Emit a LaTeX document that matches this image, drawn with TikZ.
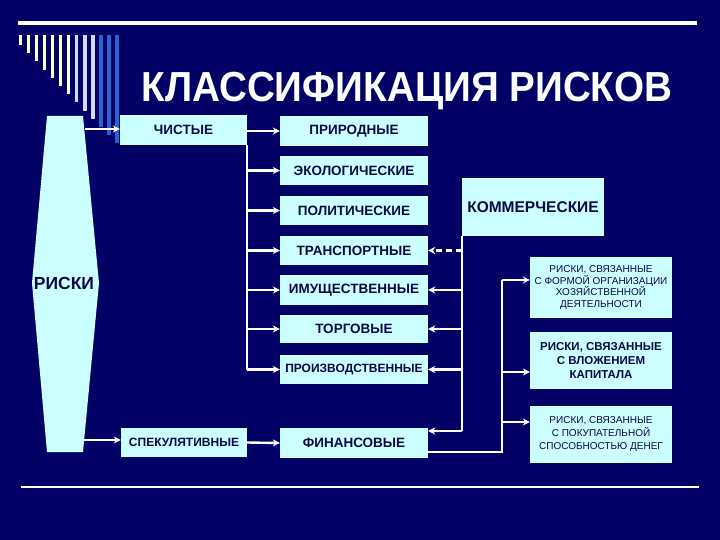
\documentclass[tikz,border=0pt]{standalone}
\usepackage{fontspec}
\setmainfont{Liberation Sans}
\usetikzlibrary{arrows.meta}
\definecolor{bg}{RGB}{2,2,102}
\definecolor{boxc}{RGB}{204,255,255}
\definecolor{txt}{RGB}{8,8,70}
\definecolor{stY}{RGB}{255,255,204}
\definecolor{stL}{RGB}{204,221,255}
\definecolor{stB}{RGB}{40,100,210}
\tikzset{
  box/.style={fill=boxc, draw=none, inner sep=1pt, text=txt, align=center},
  mid/.style={box, minimum width=148pt},
  rbox/.style={box, minimum width=142pt},
  wl/.style={draw=white, line width=2.4pt},
  arr/.style={wl, -{Stealth[length=7pt,width=7pt]}},
  dsh/.style={dash pattern=on 6pt off 4pt},
  fs/.style={font=\fontsize{#1}{#1}\selectfont\bfseries},
}
\begin{document}
\begin{tikzpicture}[x=1pt,y=-1pt]
\fill[bg] (0,0) rectangle (720,540);
\useasboundingbox (0,0) rectangle (720,540);
% top and bottom rules
\fill[white] (18,21.5) rectangle (697,25.5);
\draw[white, line width=1.5pt] (21,487) -- (699,487);
% stripes
\foreach \i in {0,...,12}{
  \pgfmathsetmacro{\xx}{18.5+8.05*\i}
  \pgfmathsetmacro{\yy}{45+8.2*\i}
  \ifnum\i<7 \def\sc{stY}\else\ifnum\i<10 \def\sc{stL}\else\def\sc{stB}\fi\fi
  \fill[\sc] (\xx,35) rectangle ++(3.6,\yy-35);
}
% title
\node[text=white, font=\fontsize{42}{42}\selectfont\bfseries, anchor=base, inner sep=0] (title) at (407,102)
  {\scalebox{0.92}[1]{КЛАССИФИКАЦИЯ РИСКОВ}};
% RISKS shape
\fill[boxc] (47,116) -- (83,116) -- (99,283) -- (83,452) -- (47,452) -- (32,283) -- cycle;
\node[text=txt, font=\fontsize{17.5}{17.5}\selectfont\bfseries] (riski) at (64,283) {РИСКИ};
\coordinate (rtop) at (85,129);
\coordinate (rbot) at (84,440);
% left boxes
\node[box, minimum width=127pt, minimum height=30pt, fs=13.5] (chist) at (183.5,130) {ЧИСТЫЕ};
\node[box, minimum width=126pt, minimum height=29pt, fs=12] (spek) at (184,442.5) {СПЕКУЛЯТИВНЫЕ};
% middle boxes
\node[mid, minimum height=30pt, fs=13.5] (prir) at (354,131) {ПРИРОДНЫЕ};
\node[mid, minimum height=29pt, fs=13.5] (ekol) at (354,170.5) {ЭКОЛОГИЧЕСКИЕ};
\node[mid, minimum height=29pt, fs=13.5] (polit) at (354,210.5) {ПОЛИТИЧЕСКИЕ};
\node[mid, minimum height=29pt, fs=13.5] (trans) at (354,250.5) {ТРАНСПОРТНЫЕ};
\node[mid, minimum height=30pt, fs=13.5] (imush) at (354,290) {ИМУЩЕСТВЕННЫЕ};
\node[mid, minimum height=28pt, fs=13.5] (torg) at (354,329) {ТОРГОВЫЕ};
\node[mid, minimum height=29pt, fs=12] (proizv) at (354,369.5) {ПРОИЗВОДСТВЕННЫЕ};
\node[mid, minimum height=30pt, fs=13.5] (fin) at (354,443) {ФИНАНСОВЫЕ};
% right boxes
\node[rbox, minimum height=58pt, fs=15.5] (komm) at (533,207) {КОММЕРЧЕСКИЕ};
\node[rbox, minimum height=61pt, font=\fontsize{10}{11.7}\selectfont] (r1) at (601,287.5)
  {РИСКИ, СВЯЗАННЫЕ\\С ФОРМОЙ ОРГАНИЗАЦИИ\\ХОЗЯЙСТВЕННОЙ\\ДЕЯТЕЛЬНОСТИ};
\node[rbox, minimum height=57pt, font=\fontsize{11.5}{14}\selectfont\bfseries] (r2) at (601,360.5)
  {РИСКИ, СВЯЗАННЫЕ\\С ВЛОЖЕНИЕМ\\КАПИТАЛА};
\node[rbox, minimum height=57pt, font=\fontsize{10}{13}\selectfont] (r3) at (601,434.5)
  {РИСКИ, СВЯЗАННЫЕ\\С ПОКУПАТЕЛЬНОЙ\\СПОСОБНОСТЬЮ ДЕНЕГ};
% connectors from RISKS
\draw[arr] (rtop) -- (chist.west |- rtop);
\draw[arr] (rbot) -- (spek.west |- rbot);
% pure risks bus
\draw[wl] (chist.south east) -- (chist.east |- proizv.west);
\draw[arr] (chist.east |- prir.west) -- (prir.west);
\foreach \n in {ekol,polit,trans,imush,torg,proizv}
  \draw[arr] (chist.east |- \n.west) -- (\n.west);
\draw[arr] (spek.east) -- (fin.west);
% commercial bus
\draw[wl] (komm.south west) -- (komm.west |- 0,431);
\draw[arr, dsh] (komm.west |- trans.east) -- (trans.east);
\foreach \n in {imush,torg,proizv}
  \draw[arr] (komm.west |- \n.east) -- (\n.east);
\draw[arr] (komm.west |- 0,431) -- ([yshift=12pt]fin.east);
% financial bus
\coordinate (busR) at (502,280);
\draw[wl] ([yshift=-9pt]fin.east) -| (busR);
\draw[arr] (busR) -- ([yshift=7.5pt]r1.west);
\draw[arr] (busR |- 0,372) -- ([yshift=-11.5pt]r2.west);
\draw[arr] (busR |- 0,422) -- ([yshift=12.5pt]r3.west);
\end{tikzpicture}
\end{document}
